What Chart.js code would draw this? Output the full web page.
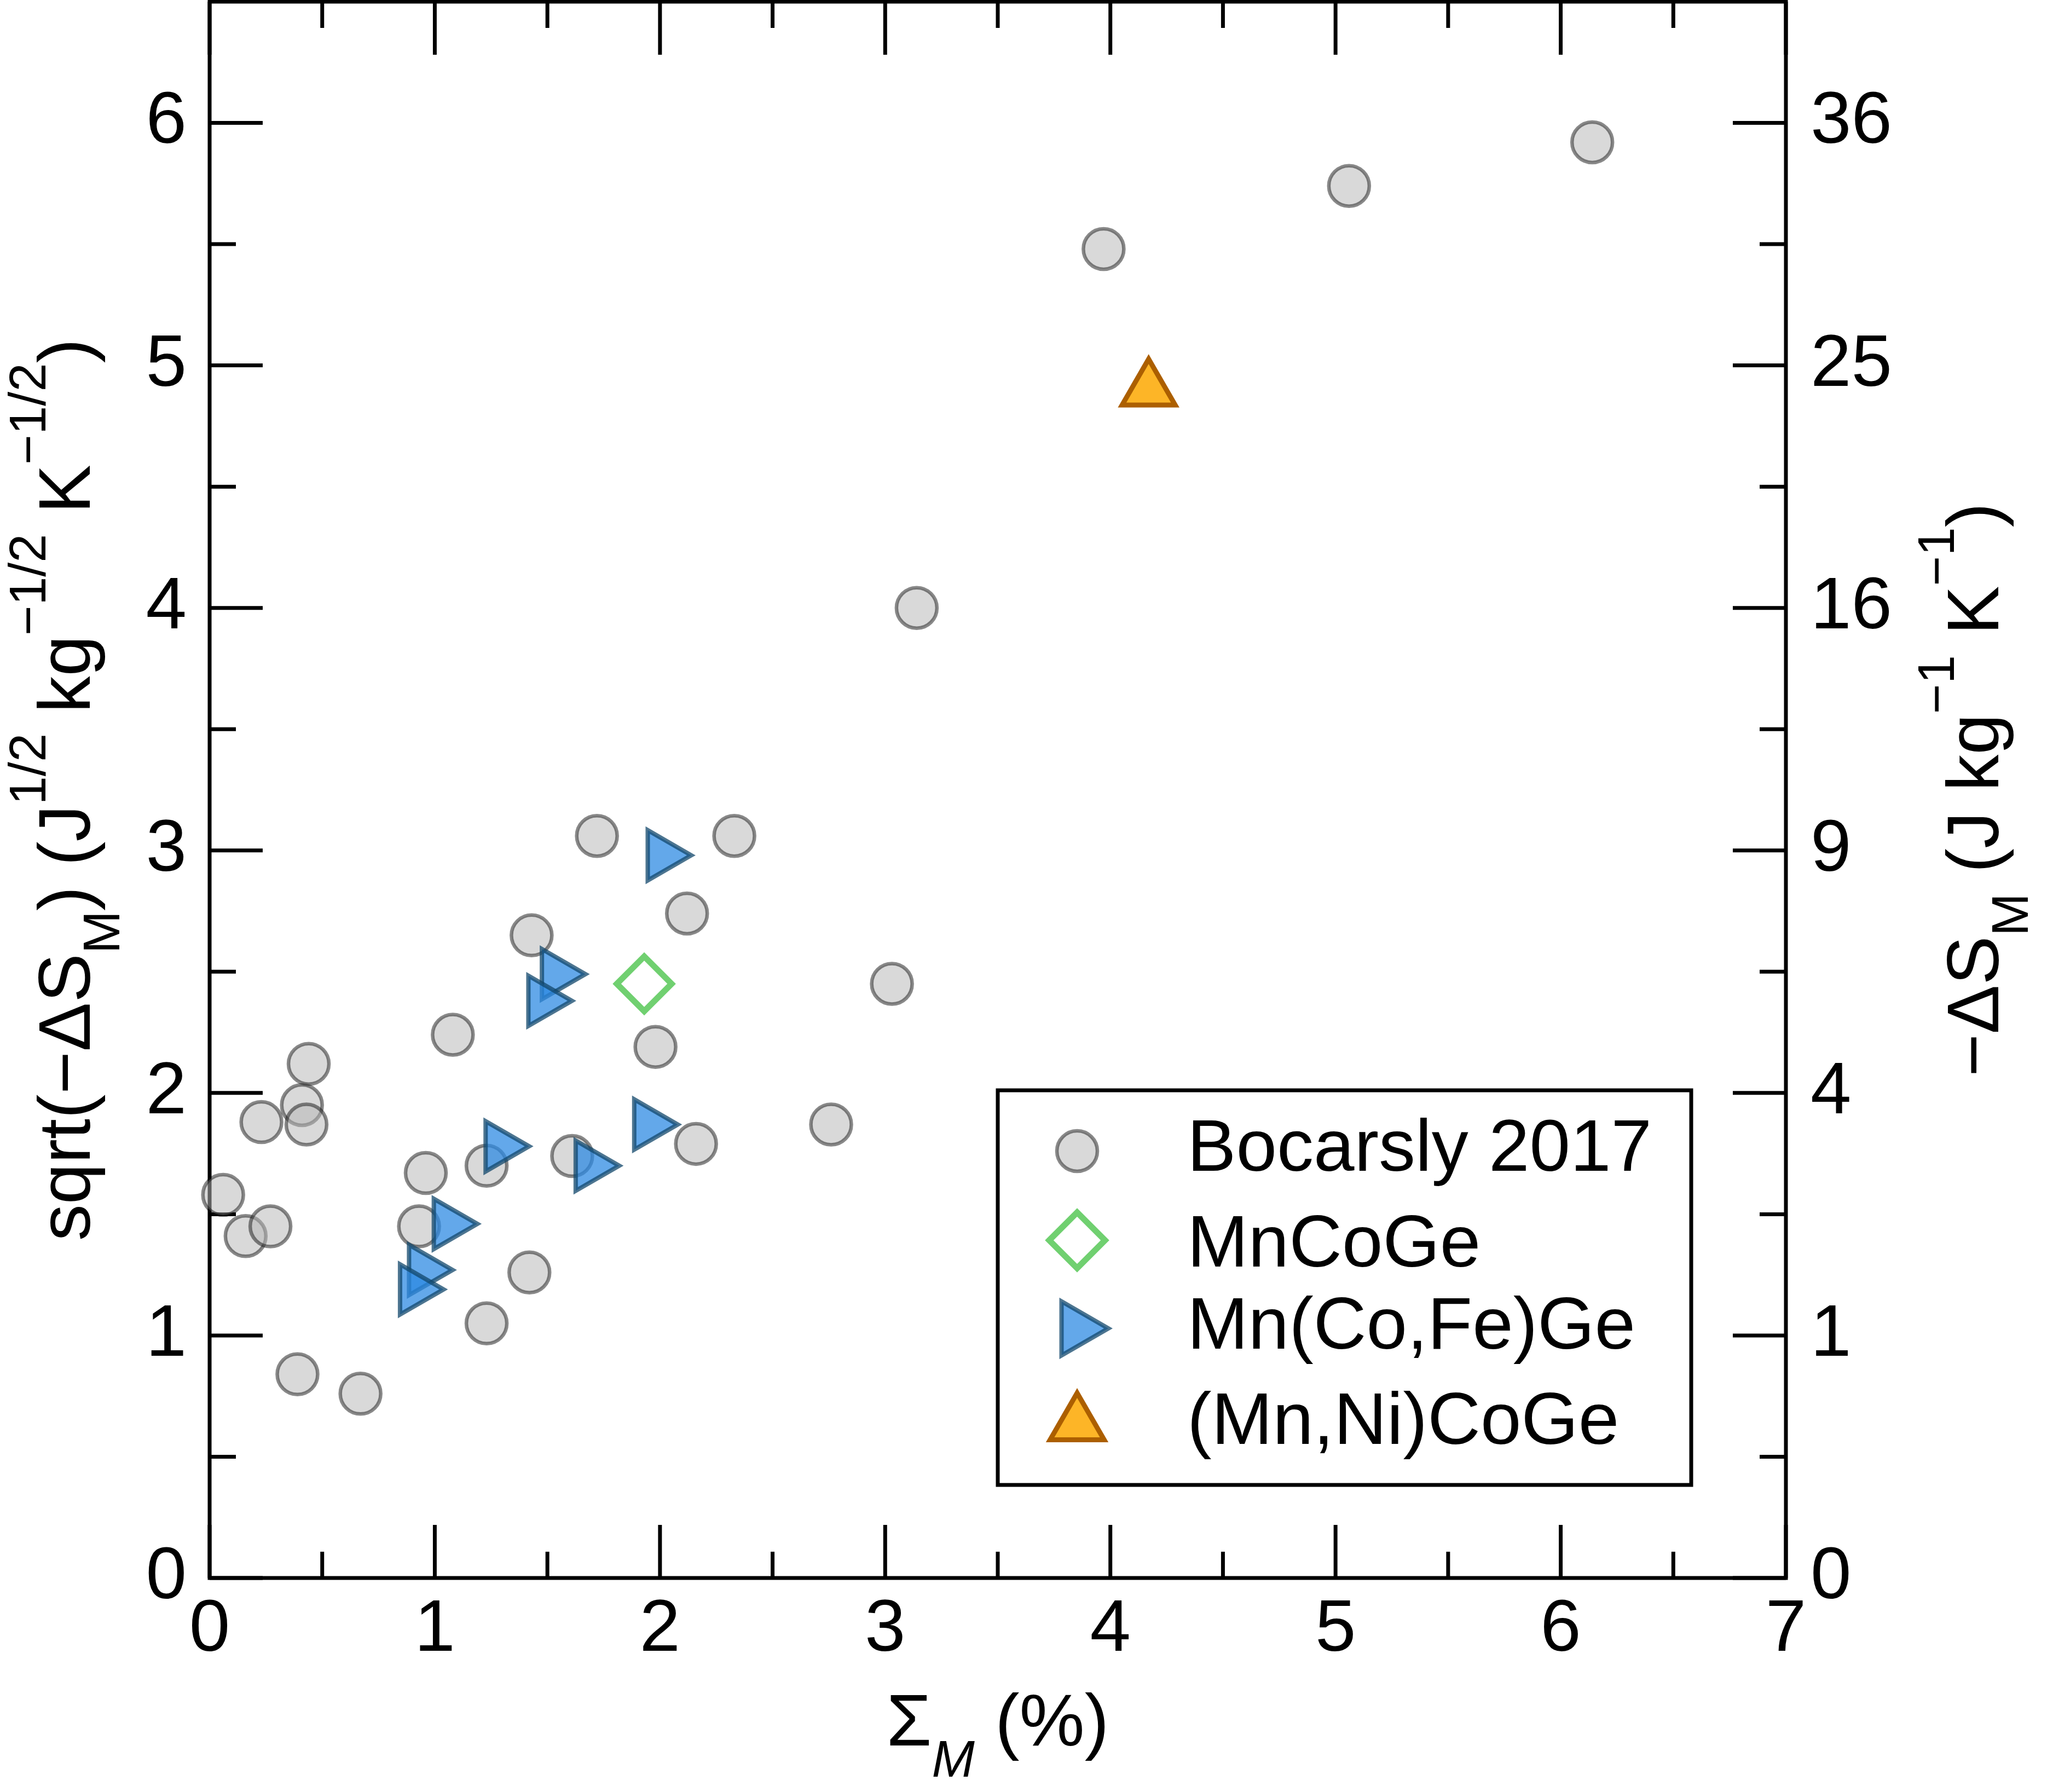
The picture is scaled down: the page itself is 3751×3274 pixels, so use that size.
<!DOCTYPE html>
<html>
<head>
<meta charset="utf-8">
<script src="https://cdn.jsdelivr.net/npm/chart.js"></script>
<style>
  html, body { margin: 0; padding: 0; background: #fff; }
  #chart { display: block; }
</style>
</head>
<body>
<canvas id="chart" width="3751" height="3274"></canvas>
<script>
//..values
const bocarslyX = [0.06, 0.16, 0.27, 0.23, 0.41, 0.44, 0.43, 0.39, 0.67, 0.96, 0.93, 1.08, 1.23, 1.23,
                   1.42, 1.43, 1.61, 1.72, 1.98, 2.12, 2.16, 2.33, 2.76, 3.03, 3.14, 3.97, 5.06, 6.14];
const bocarslyY = [1.58, 1.41, 1.45, 1.88, 1.95, 2.12, 1.87, 0.84, 0.76, 1.67, 1.45, 2.24, 1.70, 1.05,
                   1.26, 2.65, 1.74, 3.06, 2.19, 2.74, 1.79, 3.06, 1.87, 2.45, 4.00, 5.48, 5.74, 5.92];
const mnCoGeX = [1.93];
const mnCoGeY = [2.45];
const mnCoFeGeX = [2.01, 1.54, 1.48, 1.95, 1.29, 1.69, 1.06, 0.95, 0.91];
const mnCoFeGeY = [2.98, 2.49, 2.38, 1.87, 1.78, 1.70, 1.46, 1.27, 1.19];
const mnNiCoGeX = [4.17];
const mnNiCoGeY = [4.90];

const seriesNames = ['Bocarsly 2017', 'MnCoGe', 'Mn(Co,Fe)Ge', '(Mn,Ni)CoGe'];

//..ticks
const xMajorTicks = [0, 1, 2, 3, 4, 5, 6, 7];
const xMinorTicks = [0.5, 1.5, 2.5, 3.5, 4.5, 5.5, 6.5];
const yMajorTicks = [0, 1, 2, 3, 4, 5, 6];
const yMinorTicks = [0.5, 1.5, 2.5, 3.5, 4.5, 5.5];
const rightTickLabels = ['0', '1', '4', '9', '16', '25', '36'];

const FONT = "'Liberation Sans', Arial, Helvetica, sans-serif";
const toPoints = (xs, ys) => xs.map((x, i) => ({ x: x, y: ys[i] }));

Chart.defaults.font.family = FONT;
Chart.defaults.color = '#000';

function fixedSize(w, h) {
    return scale => {
        if (w !== null) scale.width = w;
        if (h !== null) scale.height = h;
        scale.paddingTop = 0;
        scale.paddingBottom = 0;
        scale.paddingLeft = 0;
        scale.paddingRight = 0;
    };
}

function setTicks(values) {
    return scale => { scale.ticks = values.map(v => ({ value: v })); };
}

//..text with sub/superscripts, centred on (x, y)
function drawRich(ctx, segs, x, y, angle) {
    ctx.save();
    ctx.translate(x, y);
    ctx.rotate(angle);
    ctx.textBaseline = 'alphabetic';
    ctx.textAlign = 'left';
    ctx.fillStyle = '#000';
    const fontOf = s => (s.italic ? 'italic ' : '') + s.size + 'px ' + FONT;
    let total = 0;
    segs.forEach(s => { ctx.font = fontOf(s); s.w = ctx.measureText(s.t).width; total += s.w; });
    let cx = -total / 2;
    segs.forEach(s => {
        ctx.font = fontOf(s);
        ctx.fillText(s.t, cx, s.dy || 0);
        cx += s.w;
    });
    ctx.restore();
}

const MAIN = 134, SMALL = 94, SUB = 54, SUP = -81;

const framePlugin = {
    id: 'frame',
    beforeDatasetsDraw(chart) {
        const { ctx, chartArea: a } = chart;
        const xs = chart.scales.x, ys = chart.scales.y;
        ctx.save();
        ctx.strokeStyle = '#000';
        ctx.lineWidth = 7;
        ctx.lineCap = 'butt';
        ctx.strokeRect(a.left, a.top, a.right - a.left, a.bottom - a.top);

        const major = 97, minor = 48;
        ctx.beginPath();
        const vTick = (v, len) => {
            const px = xs.getPixelForValue(v);
            ctx.moveTo(px, a.bottom); ctx.lineTo(px, a.bottom - len);
            ctx.moveTo(px, a.top); ctx.lineTo(px, a.top + len);
        };
        const hTick = (v, len) => {
            const py = ys.getPixelForValue(v);
            ctx.moveTo(a.left, py); ctx.lineTo(a.left + len, py);
            ctx.moveTo(a.right, py); ctx.lineTo(a.right - len, py);
        };
        xMajorTicks.forEach(v => vTick(v, major));
        xMinorTicks.forEach(v => vTick(v, minor));
        yMajorTicks.forEach(v => hTick(v, major));
        yMinorTicks.forEach(v => hTick(v, minor));
        ctx.stroke();
        ctx.restore();
    }
};

const legendRows = [
    { dataset: 0, markerY: 2103, baseline: 2139, radius: 37 },
    { dataset: 1, markerY: 2266, baseline: 2314, radius: 51 },
    { dataset: 2, markerY: 2427, baseline: 2464, radius: 57 },
    { dataset: 3, markerY: 2602, baseline: 2638, radius: 57 }
];

const legendPlugin = {
    id: 'boxLegend',
    afterDatasetsDraw(chart) {
        const ctx = chart.ctx;
        const box = { left: 1823, top: 1992, right: 3090, bottom: 2713 };
        ctx.save();
        ctx.fillStyle = '#fff';
        ctx.fillRect(box.left, box.top, box.right - box.left, box.bottom - box.top);
        ctx.strokeStyle = '#000';
        ctx.lineWidth = 7;
        ctx.strokeRect(box.left, box.top, box.right - box.left, box.bottom - box.top);

        legendRows.forEach(row => {
            const ds = chart.data.datasets[row.dataset];
            ctx.fillStyle = ds.pointBackgroundColor;
            ctx.strokeStyle = ds.pointBorderColor;
            ctx.lineWidth = ds.pointBorderWidth;
            ctx.lineJoin = 'miter';
            Chart.helpers.drawPoint(ctx, {
                pointStyle: ds.pointStyle,
                rotation: ds.pointRotation || 0,
                radius: row.radius,
                borderWidth: ds.pointBorderWidth
            }, 1968, row.markerY);
            ctx.fillStyle = '#000';
            ctx.font = MAIN + 'px ' + FONT;
            ctx.textBaseline = 'alphabetic';
            ctx.textAlign = 'left';
            ctx.fillText(ds.label, 2169, row.baseline);
        });
        ctx.restore();
    }
};

const titlePlugin = {
    id: 'axisTitles',
    afterDraw(chart) {
        const ctx = chart.ctx;
        const a = chart.chartArea;
        const midX = (a.left + a.right) / 2;
        const midY = (a.top + a.bottom) / 2;

        drawRich(ctx, [
            { t: '\u03A3', size: MAIN },
            { t: 'M', size: SMALL, dy: 57, italic: true },
            { t: ' (%)', size: MAIN }
        ], midX, 3189, 0);

        drawRich(ctx, [
            { t: 'sqrt(\u2212\u0394S', size: MAIN },
            { t: 'M', size: SMALL, dy: SUB },
            { t: ') (J', size: MAIN },
            { t: '1/2', size: SMALL, dy: SUP },
            { t: ' kg', size: MAIN },
            { t: '\u22121/2', size: SMALL, dy: SUP },
            { t: ' K', size: MAIN },
            { t: '\u22121/2', size: SMALL, dy: SUP },
            { t: ')', size: MAIN }
        ], 164, midY, -Math.PI / 2);

        drawRich(ctx, [
            { t: '\u2212\u0394S', size: MAIN },
            { t: 'M', size: SMALL, dy: SUB },
            { t: ' (J kg', size: MAIN },
            { t: '\u22121', size: SMALL, dy: SUP },
            { t: ' K', size: MAIN },
            { t: '\u22121', size: SMALL, dy: SUP },
            { t: ')', size: MAIN }
        ], 3651, midY, -Math.PI / 2);
    }
};

new Chart(document.getElementById('chart'), {
    type: 'scatter',
    data: {
        datasets: [
            {
                label: seriesNames[0],
                data: toPoints(bocarslyX, bocarslyY),
                pointStyle: 'circle',
                pointRadius: 37,
                pointBorderWidth: 6.5,
                pointBackgroundColor: 'rgba(183,183,183,0.52)',
                pointBorderColor: 'rgba(20,20,20,0.5)',
                order: 4,
                clip: false
            },
            {
                label: seriesNames[1],
                data: toPoints(mnCoGeX, mnCoGeY),
                pointStyle: 'rectRot',
                pointRadius: 50,
                pointBorderWidth: 11,
                pointBackgroundColor: 'rgba(255,255,255,0)',
                pointBorderColor: '#70d070',
                order: 3,
                clip: false
            },
            {
                label: seriesNames[2],
                data: toPoints(mnCoFeGeX, mnCoFeGeY),
                pointStyle: 'triangle',
                pointRotation: 90,
                pointRadius: 53,
                pointBorderWidth: 8,
                pointBackgroundColor: 'rgba(44,138,227,0.74)',
                pointBorderColor: 'rgba(18,71,107,0.75)',
                order: 2,
                clip: false
            },
            {
                label: seriesNames[3],
                data: toPoints(mnNiCoGeX, mnNiCoGeY),
                pointStyle: 'triangle',
                pointRadius: 56,
                pointBorderWidth: 9,
                pointBackgroundColor: '#fdb527',
                pointBorderColor: '#ac5f00',
                order: 1,
                clip: false
            }
        ]
    },
    options: {
        responsive: false,
        animation: false,
        devicePixelRatio: 1,
        layout: { autoPadding: false, padding: { top: 3, left: 0, right: 0, bottom: 0 } },
        plugins: {
            legend: { display: false },
            tooltip: { enabled: false }
        },
        elements: { point: { hoverRadius: 0 } },
        scales: {
            x: {
                type: 'linear',
                position: 'bottom',
                min: 0,
                max: 7,
                afterBuildTicks: setTicks(xMajorTicks),
                afterFit: fixedSize(null, 391),
                grid: { display: false, drawTicks: false },
                border: { display: false },
                ticks: { font: { size: MAIN }, padding: 16, autoSkip: false, maxRotation: 0 }
            },
            y: {
                type: 'linear',
                position: 'left',
                min: 0,
                max: 6.5,
                afterBuildTicks: setTicks(yMajorTicks),
                afterFit: fixedSize(383, null),
                grid: { display: false, drawTicks: false },
                border: { display: false },
                ticks: { font: { size: MAIN }, padding: 42, autoSkip: false }
            },
            y2: {
                type: 'linear',
                position: 'right',
                min: 0,
                max: 6.5,
                afterBuildTicks: setTicks(yMajorTicks),
                afterFit: fixedSize(488, null),
                grid: { display: false, drawTicks: false },
                border: { display: false },
                ticks: {
                    font: { size: MAIN },
                    padding: 45,
                    autoSkip: false,
                    callback: (value, index) => rightTickLabels[index]
                }
            }
        }
    },
    plugins: [framePlugin, legendPlugin, titlePlugin]
});
</script>
</body>
</html>
